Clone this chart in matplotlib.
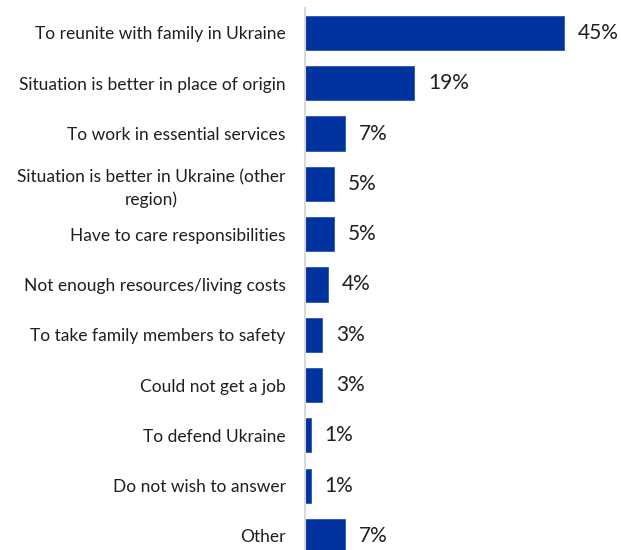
import matplotlib
matplotlib.use("Agg")
import matplotlib.pyplot as plt

reasons = [
  "To reunite with family in Ukraine",
  "Situation is better in place of origin",
  "To work in essential services",
  "Situation is better in Ukraine (other\nregion)",
  "Have to care responsibilities",
  "Not enough resources/living costs",
  "To take family members to safety",
  "Could not get a job",
  "To defend Ukraine",
  "Do not wish to answer",
  "Other",
]
shares = [45, 19, 7, 5, 5, 4, 3, 3, 1, 1, 7]

plt.rcParams["font.family"] = ["Lato", "DejaVu Sans"]

fig = plt.figure(figsize = (6.21, 5.5), dpi = 100)
# axes spans from the grey baseline to the right edge
ax = fig.add_axes([305 / 621, 0, 316 / 621, 542 / 550])

ypos = list(range(len(reasons)))
ax.barh(ypos, shares, height = 0.68, color = "#0033a0", edgecolor = "#2a55b5", lw = 0.6, zorder = 2)

for y, v in zip(ypos, shares):
  ax.annotate(f"{v}%", (v, y), xytext = (10, 0), textcoords = "offset points",
              va = "center", ha = "left", fontsize = 15, color = "#1f1f1f")

ax.set_xlim(0, 316 / 5.75)
ax.set_ylim(10.28, -0.497)
ax.set_yticks(ypos)
ax.set_yticklabels(reasons, fontsize = 12.5, color = "#1f1f1f", multialignment = "center",
                   linespacing = 1.5)
ax.tick_params(axis = "y", length = 0, pad = 14)
ax.set_xticks([])

for side in ["top", "right", "bottom"]:
  ax.spines[side].set_visible(False)
ax.spines["left"].set_color("#d9d9d9")
ax.spines["left"].set_linewidth(1.5)

fig.savefig("out.png", dpi = 100)
